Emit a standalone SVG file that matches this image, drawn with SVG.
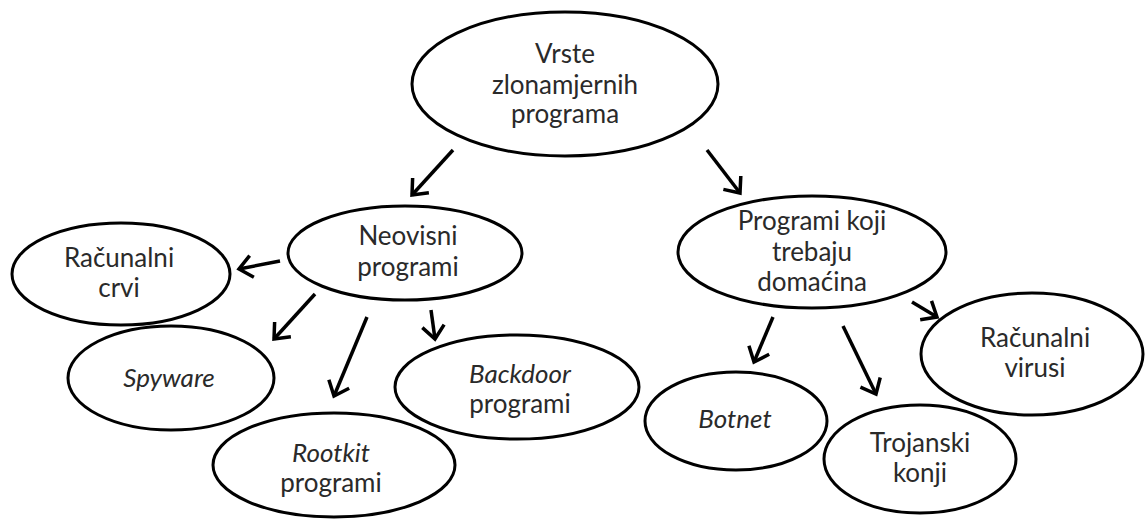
<svg xmlns="http://www.w3.org/2000/svg" width="1147" height="519" viewBox="0 0 1147 519">
<defs>
<style>
.n ellipse{fill:#fff;stroke:#000;stroke-width:3}
text{font-family:Lato,"Open Sans",sans-serif;font-size:26px;fill:#2a2a2a;text-anchor:middle}
.i{font-style:italic}
.c path{fill:none;stroke:#000;stroke-width:3.5;marker-end:url(#ah)}
</style>
<marker id="ah" markerUnits="userSpaceOnUse" orient="auto" overflow="visible" markerWidth="1" markerHeight="1" refX="0" refY="0">
<path d="M-13,-11 L0,0 L-13,11" fill="none" stroke="#000" stroke-width="3.5" stroke-linejoin="miter"/>
</marker>
</defs>
<rect width="1147" height="519" fill="#fff"/>
<g id="root" class="n"><ellipse cx="565" cy="84" rx="153" ry="72"/><text x="565" y="63">Vrste</text><text x="565" y="94">zlonamjernih</text><text x="565" y="123">programa</text></g>
<g id="neovisni" class="n"><ellipse cx="405" cy="253" rx="117" ry="47"/><text x="408" y="245">Neovisni</text><text x="408" y="276">programi</text></g>
<g id="crvi" class="n"><ellipse cx="121" cy="274" rx="109" ry="51"/><text x="119" y="267">Računalni</text><text x="119" y="297">crvi</text></g>
<g id="spyware" class="n"><ellipse cx="171" cy="378" rx="103" ry="52"/><text x="169" y="387" class="i">Spyware</text></g>
<g id="rootkit" class="n"><ellipse cx="334" cy="465" rx="121" ry="52"/><text x="331" y="462" class="i">Rootkit</text><text x="331" y="492">programi</text></g>
<g id="backdoor" class="n"><ellipse cx="517" cy="387" rx="122" ry="52"/><text x="520" y="383" class="i">Backdoor</text><text x="520" y="413">programi</text></g>
<g id="domacin" class="n"><ellipse cx="812" cy="252" rx="134" ry="56"/><text x="812" y="230">Programi koji</text><text x="812" y="261">trebaju</text><text x="812" y="291">domaćina</text></g>
<g id="virusi" class="n"><ellipse cx="1032" cy="354" rx="111" ry="61"/><text x="1035" y="347">Računalni</text><text x="1035" y="377">virusi</text></g>
<g id="botnet" class="n"><ellipse cx="736" cy="421" rx="91" ry="49"/><text x="735" y="428" class="i">Botnet</text></g>
<g id="trojanski" class="n"><ellipse cx="920" cy="459" rx="96" ry="54"/><text x="920" y="452">Trojanski</text><text x="920" y="482">konji</text></g>
<g id="connectors" class="c">
<path d="M453,150 L412,195"/>
<path d="M707,150 L740,193"/>
<path d="M280,261 L239,269"/>
<path d="M315,294 L274,339"/>
<path d="M367,317 L334,396"/>
<path d="M431,310 L435,339"/>
<path d="M773,317 L754,362"/>
<path d="M843,326 L876,394"/>
<path d="M912,302 L937,317"/>
</g>
</svg>
